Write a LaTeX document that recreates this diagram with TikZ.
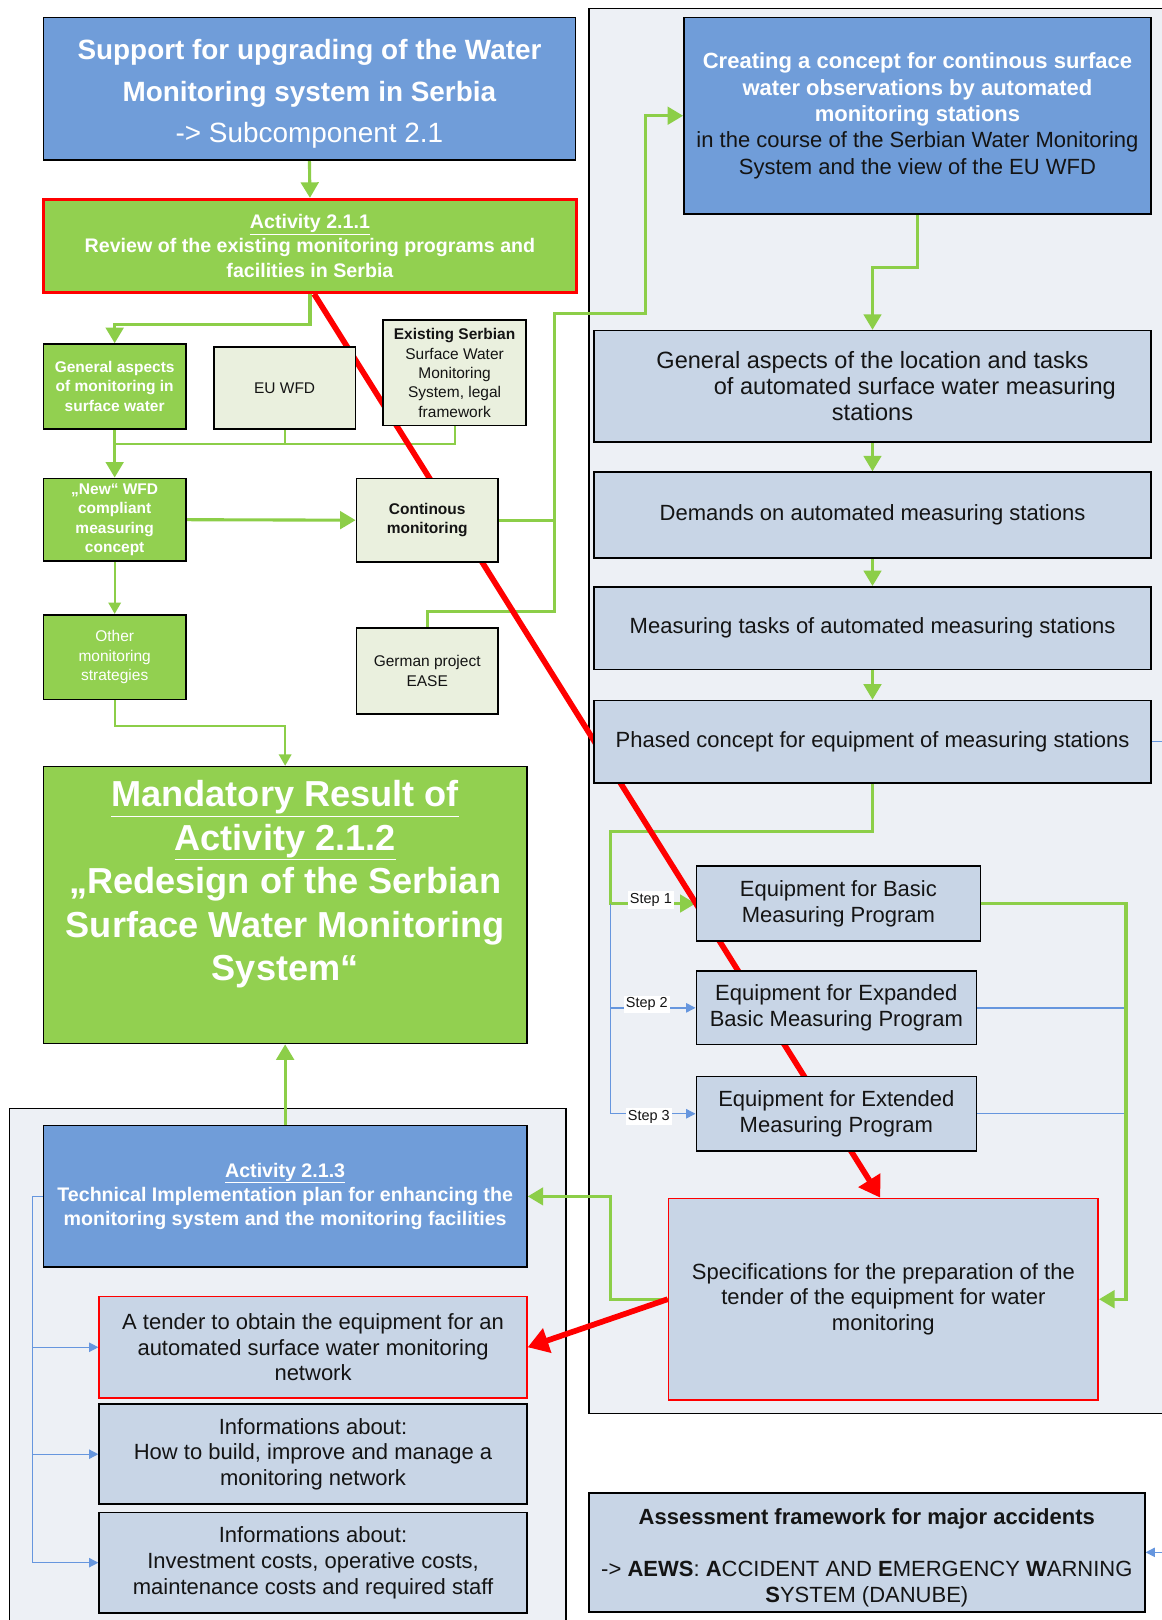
\documentclass[tikz,border=0pt]{standalone}
\usepackage{fontspec}
\setmainfont{Liberation Sans}
\usetikzlibrary{arrows.meta,calc}
\pgfdeclarelayer{panels}
\pgfdeclarelayer{wires}
\pgfsetlayers{panels,wires,main}
\definecolor{bbox}{RGB}{112,157,217}
\definecolor{gbox}{RGB}{146,208,80}
\definecolor{steel}{RGB}{200,213,230}
\definecolor{panelc}{RGB}{237,240,245}
\definecolor{pale}{RGB}{234,240,222}
\definecolor{grn}{RGB}{140,206,72}
\definecolor{bln}{RGB}{102,150,222}
\definecolor{txt}{RGB}{20,20,20}
\newcommand{\myfs}[2]{\fontsize{#1}{#2}\selectfont}
\tikzset{
  box/.style={draw=black, line width=1.6pt, inner sep=0pt, align=center, text=txt},
  bluebox/.style={box, fill=bbox},
  steelbox/.style={box, fill=steel, font=\myfs{21.3}{25}},
  greenbox/.style={box, fill=gbox, text=white},
  palebox/.style={box, fill=pale, font=\myfs{15}{18.7}},
  smallgreen/.style={greenbox, font=\myfs{15}{18.7}, minimum width=138pt},
  txtonly/.style={align=center, inner sep=0pt},
  panel/.style={fill=panelc, draw=black, line width=1.4pt},
  garrow/.style={draw=grn, line width=3pt, -{Triangle[length=15pt,width=17pt]}},
  gline/.style={draw=grn, line width=3pt},
  gthin/.style={draw=grn, line width=2pt, -{Triangle[length=11pt,width=12pt]}},
  gthinline/.style={draw=grn, line width=2pt},
  barrow/.style={draw=bln, line width=1.3pt, -{Triangle[length=9pt,width=9pt]}},
  bline/.style={draw=bln, line width=1.3pt},
  rarrow/.style={draw=red, line width=5.5pt, -{Triangle[length=20pt,width=24pt]}},
  steplabel/.style={fill=white, inner sep=2pt, font=\myfs{14}{16}, text=txt}
}
\begin{document}
\begin{tikzpicture}[x=1pt,y=-1pt]
\useasboundingbox (0,0) rectangle (1124,1568);
\begin{pgfonlayer}{panels}
  \fill[white] (0,0) rectangle (1124,1568);
  \draw[panel] (570,8) rectangle (1140,1368);
  \draw[panel] (9,1073) rectangle (548,1590);
\end{pgfonlayer}

% ---------- left column ----------
\node[bluebox, minimum width=515pt, minimum height=138pt] (top) at (299.5,86) {};
\node[txtonly, text=white, font=\myfs{27}{40}] (topt) at (299.5,91)
  {\textbf{Support for upgrading of the Water}\\\textbf{Monitoring system in Serbia}\\-> Subcomponent 2.1};
\node[box, draw=red, line width=3pt, fill=gbox, text=white, font=\bfseries\myfs{19}{23.5}, minimum width=516pt, minimum height=90pt] (act1) at (300,238)
  {\underline{Activity 2.1.1}\\Review of the existing monitoring programs and\\facilities in Serbia};

\node[smallgreen, font=\bfseries\myfs{15}{18.7}, minimum height=82pt] (ga) at (111,374) {General aspects\\of monitoring in\\surface water};
\node[smallgreen, font=\bfseries\myfs{15}{18.7}, minimum height=80pt] (nw) at (111,503) {„New“ WFD\\compliant\\measuring\\concept};
\node[smallgreen, minimum height=82pt] (oth) at (111,636) {Other\\monitoring\\strategies};
\node[palebox, minimum width=137pt, minimum height=79pt] (euwfd) at (275.5,375.5) {EU WFD};
\node[palebox, minimum width=138pt, minimum height=102pt] (exs) at (440,361) {\textbf{Existing Serbian}\\Surface Water\\Monitoring\\System, legal\\framework};
\node[palebox, font=\bfseries\myfs{15}{18.7}, minimum width=137pt, minimum height=81pt] (cont) at (413.5,503.5) {Continous\\monitoring};
\node[palebox, minimum width=137pt, minimum height=83pt] (ger) at (413.5,649.5) {German project\\EASE};

\node[greenbox, minimum width=468pt, minimum height=268pt] (mand) at (276,876) {};
\node[txtonly, text=white, font=\bfseries\myfs{35}{42}] (mandt) at (276,856)
  {\underline{Mandatory Result of}\\\underline{Activity 2.1.2}\\„Redesign of the Serbian\\Surface Water Monitoring\\System“};

\node[bluebox, text=white, font=\bfseries\myfs{19}{23.5}, minimum width=468pt, minimum height=137pt] (act3) at (276,1158)
  {\underline{Activity 2.1.3}\\Technical Implementation plan for enhancing the\\monitoring system and the monitoring facilities};
\node[steelbox, draw=red, line width=1.5pt, minimum width=414pt, minimum height=98pt] (tender) at (303,1304)
  {A tender to obtain the equipment for an\\automated surface water monitoring\\network};
\node[steelbox, minimum width=414pt, minimum height=97pt] (info1) at (303,1407.5)
  {Informations about:\\How to build, improve and manage a\\monitoring network};
\node[steelbox, minimum width=414pt, minimum height=97pt] (info2) at (303,1512.5)
  {Informations about:\\Investment costs, operative costs,\\maintenance costs and required staff};

% ---------- right column ----------
\node[bluebox, minimum width=452pt, minimum height=190pt, font=\myfs{21.3}{25.5}] (crt) at (888,112)
  {\textcolor{white}{\textbf{Creating a concept for continous surface}}\\
   \textcolor{white}{\textbf{water observations by automated}}\\
   \textcolor{white}{\textbf{monitoring stations}}\\
   in the course of the Serbian Water Monitoring\\System and the view of the EU WFD};
\node[steelbox, font=\myfs{22.8}{25}, minimum width=539pt, minimum height=108pt] (gen2) at (844.5,374)
  {General aspects of the location and tasks\\\hspace*{82pt}of automated surface water measuring\\stations};
\node[steelbox, minimum width=539pt, minimum height=83pt] (dem) at (844.5,498.5) {Demands on automated measuring stations};
\node[steelbox, minimum width=539pt, minimum height=80pt] (mtask) at (844.5,608) {Measuring tasks of automated measuring stations};
\node[steelbox, minimum width=539pt, minimum height=80pt] (phased) at (844.5,718) {Phased concept for equipment of measuring stations};
\node[steelbox, minimum width=275pt, minimum height=73pt] (eqb) at (811.5,874.5) {Equipment for Basic\\Measuring Program};
\node[steelbox, minimum width=271pt, minimum height=71pt] (eqx) at (809.5,975.5) {Equipment for Expanded\\Basic Measuring Program};
\node[steelbox, minimum width=271pt, minimum height=72pt] (eqe) at (809.5,1078) {Equipment for Extended\\Measuring Program};
\node[steelbox, draw=red, line width=1.5pt, minimum width=416pt, minimum height=195pt] (spec) at (855,1257.5)
  {Specifications for the preparation of the\\tender of the equipment for water\\monitoring};
\node[steelbox, minimum width=538pt, minimum height=115pt] (aews) at (839,1502.5) {};
\node[txtonly, text=txt, font=\myfs{21.3}{25}] (aewst) at (839,1508)
  {\textbf{Assessment framework for major accidents}\\[25pt]-> \textbf{AEWS}: \textbf{A}CCIDENT AND \textbf{E}MERGENCY \textbf{W}ARNING\\\textbf{S}YSTEM (DANUBE)};

\node[steplabel] (s1) at (630,871) {Step 1};
\node[steplabel] (s2) at (626,972) {Step 2};
\node[steplabel] (s3) at (628,1081) {Step 3};

\coordinate (j1) at (111,430);
\coordinate (bus) at (537,303);
\coordinate (sb) at (591,874.5);
\coordinate (aewsin) at (1135,1502.5);

% ---------- connectors ----------
\begin{pgfonlayer}{wires}
  \draw[garrow] (top.south) -- (act1.north);
  \draw[garrow] (act1.south) -- ++(0,30) -| (ga.north);
  \draw[garrow] (ga.south) -- (nw.north);
  \draw[gthinline] (euwfd.south) |- (j1);
  \draw[gthinline] (exs.south) |- (j1);
  \draw[garrow] (nw.east) -- (cont.west);
  \draw[gthin] (nw.south) -- (oth.north);
  \draw[gthin] (oth.south) -- ++(0,25) -| (mand.north);
  \draw[gline] (cont.east) -- (cont.east -| bus);
  \draw[garrow] (ger.north) -- ++(0,-15) -| (bus) -- ++(88,0) |- (crt.west);
  \draw[garrow] (crt.south) -- ++(0,51) -| (gen2.north);
  \draw[garrow] (gen2.south) -- (dem.north);
  \draw[garrow] (dem.south) -- (mtask.north);
  \draw[garrow] (mtask.south) -- (phased.north);
  \draw[garrow] (phased.south) -- ++(0,46) -| (sb) -- (eqb.west);
  \draw[barrow] (sb) |- (eqx.west);
  \draw[barrow] (sb) |- (eqe.west);
  \draw[garrow] (eqb.east) -- ++(140,0) |- (spec.east);
  \draw[bline] (eqx.east) -- ++(142,0);
  \draw[bline] (eqe.east) -- ++(142,0);
  \draw[bline] (phased.east) -- ++(15,0);
  \draw[barrow] (aewsin) -- (aews.east);
  \draw[garrow] (spec.west) -- ++(-55,0) |- (act3.east);
  \draw[garrow] (act3.north) -- (mand.south);
  \draw[barrow] (act3.west) -- ++(-10,0) |- (tender.west);
  \draw[barrow] (act3.west) -- ++(-10,0) |- (info1.west);
  \draw[barrow] (act3.west) -- ++(-10,0) |- (info2.west);
  \draw[rarrow] ([xshift=4pt]act1.south) -- ([xshift=-3pt]spec.north);
  \draw[rarrow] (spec.west) -- (tender.east);
\end{pgfonlayer}
\end{tikzpicture}
\end{document}
